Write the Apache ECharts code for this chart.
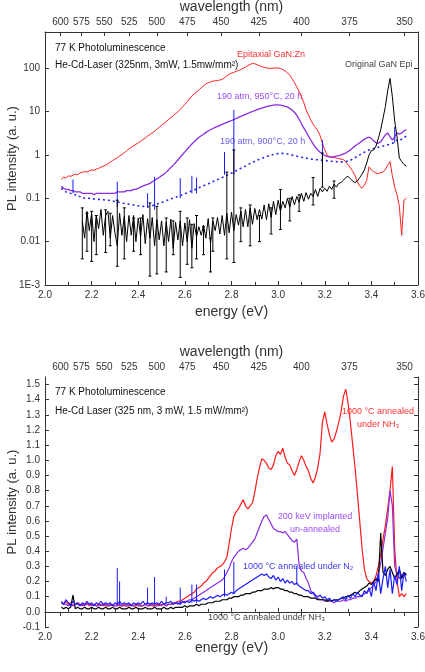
<!DOCTYPE html>
<html><head><meta charset="utf-8">
<script src="https://cdn.jsdelivr.net/npm/echarts@6/dist/echarts.min.js"></script>
<style>html,body{margin:0;padding:0;background:#fff}#c{width:425px;height:672px}</style>
</head><body><div id="c"></div>
<script>
// Energy sampling grid (eV)
const energy = [
2.07,2.08,2.09,2.10,2.11,2.12,2.13,2.14,2.15,2.16,
2.17,2.18,2.19,2.20,2.21,2.22,2.23,2.24,2.25,2.26,
2.27,2.28,2.29,2.30,2.31,2.32,2.33,2.34,2.35,2.36,
2.37,2.38,2.39,2.40,2.41,2.42,2.43,2.44,2.45,2.46,
2.47,2.48,2.49,2.50,2.51,2.52,2.53,2.54,2.55,2.56,
2.57,2.58,2.59,2.60,2.61,2.62,2.63,2.64,2.65,2.66,
2.67,2.68,2.69,2.70,2.71,2.72,2.73,2.74,2.75,2.76,
2.77,2.78,2.79,2.80,2.81,2.82,2.83,2.84,2.85,2.86,
2.87,2.88,2.89,2.90,2.91,2.92,2.93,2.94,2.95,2.96,
2.97,2.98,2.99,3.00,3.01,3.02,3.03,3.04,3.05,3.06,
3.07,3.08,3.09,3.10,3.11,3.12,3.13,3.14,3.15,3.16,
3.17,3.18,3.19,3.20,3.21,3.22,3.23,3.24,3.25,3.26,
3.27,3.28,3.29,3.30,3.31,3.32,3.33,3.34,3.35,3.36,
3.37,3.38,3.39,3.40,3.41,3.42,3.43,3.44,3.45,3.46,
3.47,3.48,3.49,3.50,3.51,3.52,3.53,3.54,3.55];

const wavelengthTicks = [600,575,550,525,500,475,450,425,400,375,350];

// ---- top panel (log scale) ----
const topEpiGaNZn = [
0.27,0.31,0.29,0.33,0.32,0.34,0.36,0.35,0.38,0.40,
0.41,0.40,0.43,0.45,0.44,0.47,0.49,0.52,0.55,0.58,
0.62,0.68,0.74,0.80,0.86,0.94,1.02,1.12,1.24,1.38,
1.50,1.62,1.75,1.90,2.05,2.25,2.45,2.70,2.95,3.20,
3.5,3.9,4.3,4.8,5.3,5.9,6.5,7.2,8.0,8.9,
9.9,11.2,12.8,14.6,16.8,19.5,22.5,25.5,28.5,31,
35,39,43,46,48,50,51,52,53,55,
60,66,72,76,80,84,88,93,99,106,
114,122,128,126,120,114,108,104,100,99,
99,100,101,100,98,93,86,78,68,57,
46,37,29,22,16,11,8.3,6.4,5.1,4.3,
3.6,2.8,1.9,1.3,1.0,0.9,0.86,0.88,0.84,0.82,
0.80,0.77,0.70,0.60,0.50,0.42,0.33,0.24,0.19,0.17,
0.20,0.26,0.53,0.45,0.41,0.38,0.37,0.39,0.40,0.46,
0.58,0.70,0.33,0.18,0.12,0.065,0.014,0.09,0.10];

const top950C = [
0.19,0.17,0.16,0.16,0.15,0.15,0.14,0.14,0.14,0.13,
0.13,0.13,0.13,0.13,0.12,0.13,0.13,0.13,0.13,0.13,
0.13,0.13,0.13,0.13,0.14,0.14,0.14,0.14,0.15,0.15,
0.15,0.16,0.16,0.17,0.18,0.19,0.20,0.21,0.22,0.24,
0.26,0.28,0.30,0.33,0.36,0.40,0.45,0.51,0.58,0.66,
0.76,0.88,1.02,1.17,1.35,1.55,1.78,2.0,2.25,2.5,
2.75,3.0,3.3,3.55,3.8,4.05,4.3,4.55,4.8,5.05,
5.3,5.6,5.9,6.2,6.5,6.9,7.3,7.7,8.1,8.6,
9.0,9.5,10,10.5,11,11.5,12,12.5,13,13.4,
13.7,14,14.2,14.2,14,13.7,13.2,12.6,11.8,10.8,
9.6,8.2,6.6,5.2,4.2,3.4,2.7,2.2,1.8,1.5,
1.3,1.15,1.05,0.97,0.92,0.90,0.90,0.91,0.93,0.96,
1.0,1.05,1.1,1.2,1.3,1.45,1.6,1.75,1.9,2.1,
2.3,2.45,2.55,2.4,2.1,1.9,1.85,2.0,2.4,2.9,
3.2,2.6,2.2,2.6,3.2,3.0,3.2,3.6,3.8];

const top900C = [
0.17,0.15,0.14,0.13,0.13,0.12,0.12,0.11,0.11,0.11,
0.10,0.10,0.10,0.098,0.096,0.095,0.094,0.093,0.092,0.091,
0.09,0.088,0.086,0.084,0.082,0.08,0.078,0.076,0.075,0.073,
0.072,0.07,0.068,0.067,0.066,0.065,0.064,0.064,0.065,0.067,
0.07,0.073,0.077,0.08,0.084,0.088,0.092,0.097,0.10,0.105,
0.11,0.115,0.12,0.126,0.132,0.14,0.147,0.155,0.165,0.175,
0.185,0.195,0.205,0.215,0.225,0.24,0.255,0.27,0.285,0.3,
0.32,0.34,0.36,0.38,0.40,0.43,0.46,0.49,0.52,0.55,
0.59,0.63,0.67,0.71,0.75,0.79,0.83,0.87,0.91,0.95,
0.99,1.02,1.05,1.07,1.08,1.08,1.07,1.05,1.02,0.99,
0.96,0.93,0.9,0.88,0.86,0.84,0.82,0.8,0.79,0.78,
0.77,0.76,0.75,0.74,0.73,0.72,0.71,0.70,0.70,0.69,
0.69,0.69,0.7,0.72,0.75,0.8,0.86,0.93,1.0,1.08,
1.15,1.22,1.3,1.35,1.4,1.45,1.5,1.55,1.6,1.65,
1.7,1.75,1.85,2.0,2.2,2.1,2.3,2.5,2.7];

const topOriginalEpi = [
null,null,null,null,null,null,null,null,null,0.03,
0.012,0.05,0.018,0.045,0.01,0.04,0.02,0.055,0.014,0.04,
0.05,0.012,0.04,0.016,0.008,0.045,0.014,0.038,0.01,0.04,
0.014,0.04,0.01,0.035,0.013,0.042,0.009,0.034,0.012,0.036,
0.008,0.032,0.011,0.03,0.008,0.028,0.01,0.033,0.007,0.028,
0.011,0.03,0.008,0.027,0.01,0.032,0.007,0.026,0.013,0.022,
0.014,0.024,0.012,0.034,0.009,0.03,0.018,0.036,0.015,0.04,
0.014,0.045,0.016,0.048,0.018,0.042,0.024,0.05,0.022,0.055,
0.022,0.06,0.025,0.058,0.032,0.055,0.033,0.07,0.032,0.075,
0.036,0.085,0.042,0.09,0.05,0.085,0.06,0.1,0.062,0.11,
0.07,0.11,0.08,0.13,0.085,0.135,0.095,0.13,0.11,0.16,
0.11,0.17,0.14,0.17,0.145,0.19,0.16,0.21,0.18,0.22,
0.23,0.26,0.3,0.32,0.28,0.25,0.23,0.25,0.3,0.36,
0.45,0.65,1.0,1.25,1.3,1.6,2.4,3.8,7.0,13,
30,58,22,6,2.6,0.85,0.7,0.6,0.55];

// error bars of original epi: [energy, low, high]
const topEpiErrorBars = [
[2.16,0.004,0.06],[2.18,0.006,0.045],[2.20,0.0035,0.05],[2.22,0.005,0.04],[2.26,0.0056,0.054],
[2.28,0.008,0.045],[2.31,0.0027,0.09],[2.34,0.004,0.06],[2.38,0.006,0.035],[2.41,0.005,0.035],
[2.45,0.0016,0.078],[2.48,0.0018,0.065],[2.52,0.002,0.035],[2.55,0.005,0.03],[2.58,0.0015,0.05],
[2.61,0.003,0.035],[2.63,0.0025,0.025],[2.65,0.004,0.04],[2.68,0.005,0.022],[2.71,0.002,0.012],
[2.72,0.006,0.035],[2.78,0.004,0.4],[2.81,0.0033,1.3],[2.84,0.01,0.06],[2.88,0.008,0.07],
[2.92,0.01,0.04],[2.97,0.015,0.06],[3.01,0.019,0.16],[3.05,0.03,0.1],[3.09,0.05,0.12],
[3.15,0.07,0.3],[3.19,0.18,1.1],[3.24,0.1,0.25]];

// spikes on 900C curve: [energy, low, high]
const top900Spikes = [
[2.12,0.13,0.27],[2.31,0.063,0.24],[2.44,0.06,0.13],[2.47,0.054,0.31],[2.58,0.10,0.29],
[2.63,0.13,0.33],[2.65,0.13,0.30],[2.77,0.35,1.17],[2.81,0.35,10.9],[3.19,0.65,2.2],[3.50,1.9,4.4]];

// ---- bottom panel (linear) ----
const botNH3Red = [
0.06,0.05,0.07,0.05,0.06,0.04,0.05,0.06,0.05,0.04,
0.05,0.06,0.04,0.05,0.05,0.04,0.05,0.04,0.05,0.04,
0.04,0.05,0.04,0.04,0.05,0.04,0.04,0.05,0.04,0.04,
0.05,0.04,0.04,0.05,0.04,0.04,0.05,0.04,0.05,0.04,
0.04,0.05,0.04,0.05,0.05,0.04,0.05,0.05,0.06,0.06,
0.07,0.07,0.08,0.09,0.1,0.11,0.12,0.13,0.15,0.16,
0.17,0.19,0.2,0.22,0.24,0.26,0.27,0.29,0.3,0.31,
0.33,0.36,0.45,0.55,0.63,0.66,0.68,0.71,0.74,0.70,
0.68,0.7,0.72,0.79,0.88,0.95,1.01,1.0,0.98,0.95,
0.94,0.97,1.03,1.06,1.04,1.08,1.02,0.98,0.97,0.93,
0.9,0.94,0.99,1.03,1.0,0.96,0.93,0.88,0.85,0.89,
0.95,1.05,1.25,1.32,1.24,1.17,1.12,1.14,1.19,1.25,
1.32,1.42,1.47,1.38,1.25,1.1,0.95,0.78,0.6,0.42,
0.28,0.22,0.2,0.19,0.2,0.24,0.3,0.38,0.48,0.57,
0.68,0.8,0.96,0.42,0.2,0.1,0.12,0.1,0.12];

const botImplanted = [
0.06,0.05,0.05,0.04,0.05,0.04,0.05,0.05,0.04,0.05,
0.04,0.05,0.05,0.04,0.05,0.04,0.04,0.05,0.04,0.05,
0.04,0.04,0.05,0.04,0.04,0.05,0.04,0.04,0.04,0.05,
0.04,0.04,0.05,0.04,0.04,0.04,0.05,0.04,0.04,0.05,
0.04,0.04,0.05,0.04,0.05,0.04,0.05,0.05,0.05,0.06,
0.05,0.06,0.06,0.07,0.07,0.08,0.08,0.09,0.1,0.11,
0.12,0.13,0.14,0.15,0.16,0.17,0.18,0.19,0.2,0.21,
0.23,0.26,0.29,0.33,0.36,0.38,0.4,0.41,0.42,0.41,
0.42,0.44,0.46,0.48,0.52,0.56,0.6,0.63,0.64,0.61,
0.58,0.55,0.54,0.53,0.53,0.52,0.53,0.51,0.49,0.47,
0.46,0.48,0.31,0.27,0.26,0.22,0.19,0.14,0.12,0.1,
0.09,0.08,0.08,0.07,0.07,0.07,0.07,0.06,0.07,0.07,
0.07,0.08,0.07,0.08,0.08,0.09,0.09,0.1,0.1,0.11,
0.12,0.13,0.14,0.16,0.18,0.2,0.25,0.32,0.42,0.52,
0.62,0.8,0.7,0.3,0.25,0.22,0.24,0.26,0.25];

const botN2Blue = [
0.07,0.05,0.08,0.06,0.04,0.07,0.05,0.06,0.04,0.06,
0.05,0.07,0.05,0.06,0.04,0.06,0.05,0.07,0.05,0.06,
0.05,0.06,0.04,0.06,0.05,0.07,0.05,0.06,0.05,0.06,
0.04,0.06,0.05,0.06,0.05,0.07,0.05,0.06,0.05,0.06,
0.05,0.06,0.05,0.07,0.05,0.06,0.06,0.07,0.05,0.06,
0.06,0.05,0.07,0.06,0.07,0.06,0.08,0.07,0.08,0.07,
0.08,0.09,0.08,0.09,0.1,0.09,0.1,0.11,0.1,0.11,
0.12,0.11,0.12,0.13,0.12,0.14,0.15,0.16,0.17,0.18,
0.19,0.2,0.21,0.22,0.23,0.24,0.25,0.24,0.25,0.23,
0.22,0.24,0.21,0.23,0.2,0.22,0.19,0.21,0.19,0.2,
0.18,0.19,0.17,0.16,0.15,0.14,0.14,0.12,0.13,0.11,
0.1,0.11,0.09,0.1,0.08,0.09,0.07,0.08,0.07,0.08,
0.09,0.1,0.08,0.11,0.09,0.12,0.1,0.13,0.11,0.1,
0.14,0.12,0.16,0.1,0.2,0.14,0.26,0.12,0.22,0.3,
0.16,0.28,0.12,0.24,0.18,0.3,0.14,0.26,0.2];

const botN2Spikes = [
[2.31,0.05,0.29],[2.32,0.05,0.2],[2.44,0.05,0.16],[2.47,0.05,0.23],[2.52,0.05,0.1],
[2.58,0.05,0.16],[2.63,0.06,0.18],[2.65,0.06,0.18],[2.77,0.1,0.28],[2.81,0.12,0.33],[3.08,0.18,0.3]];

const botNH3Black = [
0.03,0.02,0.03,0.02,0.03,0.11,0.02,0.03,0.02,0.02,
0.03,0.02,0.02,0.03,0.02,0.02,0.03,0.02,0.02,0.03,
0.02,0.02,0.03,0.02,0.02,0.03,0.02,0.02,0.02,0.03,
0.02,0.02,0.03,0.02,0.02,0.02,0.03,0.02,0.02,0.02,
0.03,0.02,0.02,0.02,0.03,0.02,0.02,0.03,0.02,0.03,
0.03,0.03,0.03,0.04,0.03,0.04,0.04,0.04,0.05,0.04,
0.05,0.05,0.05,0.06,0.06,0.06,0.07,0.07,0.07,0.08,
0.08,0.08,0.09,0.09,0.1,0.1,0.1,0.11,0.11,0.12,
0.12,0.12,0.13,0.13,0.14,0.14,0.14,0.15,0.15,0.15,
0.16,0.15,0.16,0.16,0.15,0.15,0.14,0.14,0.13,0.13,
0.12,0.12,0.11,0.11,0.1,0.1,0.1,0.09,0.09,0.09,
0.08,0.08,0.08,0.08,0.07,0.08,0.07,0.08,0.08,0.08,
0.09,0.09,0.1,0.1,0.11,0.12,0.13,0.12,0.14,0.15,
0.16,0.17,0.19,0.18,0.2,0.22,0.2,0.52,0.26,0.24,
0.28,0.3,0.26,0.22,0.25,0.28,0.22,0.26,0.24];

const FONT = 'Liberation Sans, Arial, sans-serif';
const AX = '#333';
const pairs = arr => energy.map((e, i) => [e, arr[i]]);
const wlEnergies = wavelengthTicks.map(l => 1239.84 / l);

function bars(color, cap) {
  return function (params, api) {
    const x = api.value(0), lo = api.value(1), hi = api.value(2);
    const p1 = api.coord([x, lo]), p2 = api.coord([x, hi]);
    const ch = [{type:'line', shape:{x1:p1[0],y1:p1[1],x2:p2[0],y2:p2[1]}, style:{stroke:color,lineWidth:1}}];
    if (cap) {
      ch.push({type:'line', shape:{x1:p1[0]-1.5,y1:p1[1],x2:p1[0]+1.5,y2:p1[1]}, style:{stroke:color,lineWidth:1}});
      ch.push({type:'line', shape:{x1:p2[0]-1.5,y1:p2[1],x2:p2[0]+1.5,y2:p2[1]}, style:{stroke:color,lineWidth:1}});
    }
    return {type:'group', children: ch};
  };
}

function energyAxis(gi, gap) {
  return {
    type:'value', gridIndex:gi, position:'bottom', min:2, max:3.6, interval:0.2,
    name:'energy (eV)', nameLocation:'middle', nameGap:gap, nameMoveOverlap:false,
    nameTextStyle:{fontFamily:FONT,fontSize:14,color:'#333'},
    axisLine:{show:true,lineStyle:{color:AX,width:1}},
    axisTick:{inside:true,length:4,lineStyle:{color:AX}},
    minorTick:{show:true,splitNumber:2,length:3,lineStyle:{color:AX}},
    axisLabel:{fontFamily:FONT,fontSize:10,color:'#333',margin:5,formatter:v=>v.toFixed(1)},
    splitLine:{show:false}
  };
}
function wavelengthAxis(gi, gap) {
  return {
    type:'value', gridIndex:gi, position:'top', min:2, max:3.6,
    name:'wavelength (nm)', nameLocation:'middle', nameGap:gap, nameMoveOverlap:false,
    nameTextStyle:{fontFamily:FONT,fontSize:14,color:'#333'},
    axisLine:{show:true,lineStyle:{color:AX,width:1}},
    axisTick:{inside:true,length:4,customValues:wlEnergies,lineStyle:{color:AX}},
    axisLabel:{fontFamily:FONT,fontSize:10,color:'#333',margin:5,customValues:wlEnergies,
      formatter:v=>String(Math.round(1239.84/v))},
    splitLine:{show:false}
  };
}
const logNames = {'2':'100','1':'10','0':'1','-1':'0.1','-2':'0.01','-3':'1E-3'};

const option = {
  animation:false,
  backgroundColor:'#fff',
  grid:[
    {left:45,right:7,top:32,height:253,containLabel:false,outerBoundsMode:'none'},
    {left:45,right:7,top:377,height:250,containLabel:false,outerBoundsMode:'none'}
  ],
  xAxis:[energyAxis(0,20), wavelengthAxis(0,18), energyAxis(1,14), wavelengthAxis(1,18)],
  yAxis:[
    {type:'log', gridIndex:0, logBase:10, min:0.001, max:680, position:'left',
     name:'PL intensity (a. u.)', nameLocation:'middle', nameGap:26, nameMoveOverlap:false,
     nameTextStyle:{fontFamily:FONT,fontSize:13,color:'#333'},
     axisLine:{show:true,lineStyle:{color:AX}},
     axisTick:{inside:true,length:4,lineStyle:{color:AX}},
     axisLabel:{fontFamily:FONT,fontSize:10,color:'#333',margin:5,showMaxLabel:false,
       formatter:v=>{const k=String(Math.round(Math.log10(v))); return logNames[k]!==undefined?logNames[k]:'';}},
     splitLine:{show:false}},
    {type:'log', gridIndex:0, logBase:10, min:0.001, max:680, position:'right',
     axisLine:{show:true,lineStyle:{color:AX}},
     axisTick:{inside:true,length:4,lineStyle:{color:AX}},
     axisLabel:{show:false}, splitLine:{show:false}},
    {type:'value', gridIndex:1, min:-0.1, max:1.55, interval:0.1, position:'left',
     name:'PL intensity (a. u.)', nameLocation:'middle', nameGap:26, nameMoveOverlap:false,
     nameTextStyle:{fontFamily:FONT,fontSize:13,color:'#333'},
     axisLine:{show:true,lineStyle:{color:AX}},
     axisTick:{inside:true,length:4,lineStyle:{color:AX}},
     axisLabel:{fontFamily:FONT,fontSize:10,color:'#333',margin:5,showMaxLabel:false,formatter:v=>v.toFixed(1)},
     splitLine:{show:false}},
    {type:'value', gridIndex:1, min:-0.1, max:1.55, interval:0.1, position:'right',
     axisLine:{show:true,lineStyle:{color:AX}},
     axisTick:{inside:true,length:4,lineStyle:{color:AX}},
     axisLabel:{show:false}, splitLine:{show:false}}
  ],
  series:[
    {type:'line', xAxisIndex:0, yAxisIndex:0, data:pairs(topEpiGaNZn), showSymbol:false,
     lineStyle:{color:'#ff2020',width:1}, z:2},
    {type:'line', xAxisIndex:0, yAxisIndex:0, data:pairs(top950C), showSymbol:false,
     lineStyle:{color:'#8a2be2',width:1.3}, z:3},
    {type:'line', xAxisIndex:0, yAxisIndex:0, data:pairs(top900C), showSymbol:false,
     lineStyle:{color:'#2828e6',width:1.6,type:[2,3]}, z:4},
    {type:'custom', xAxisIndex:0, yAxisIndex:0, data:top900Spikes, renderItem:bars('#1a1aff',false),
     encode:{x:0,y:[1,2]}, z:4},
    {type:'line', xAxisIndex:0, yAxisIndex:0, data:pairs(topOriginalEpi), showSymbol:false, connectNulls:false,
     lineStyle:{color:'#000',width:1}, z:5},
    {type:'custom', xAxisIndex:0, yAxisIndex:0, data:topEpiErrorBars, renderItem:bars('#000',true),
     encode:{x:0,y:[1,2]}, z:5},

    {type:'line', xAxisIndex:2, yAxisIndex:2, data:pairs(botNH3Red), showSymbol:false,
     lineStyle:{color:'#ff1a1a',width:1.2}, z:2},
    {type:'line', xAxisIndex:2, yAxisIndex:2, data:pairs(botImplanted), showSymbol:false,
     lineStyle:{color:'#8a2be2',width:1.2}, z:3},
    {type:'line', xAxisIndex:2, yAxisIndex:2, data:pairs(botNH3Black), showSymbol:false,
     lineStyle:{color:'#000',width:1.2}, z:4},
    {type:'line', xAxisIndex:2, yAxisIndex:2, data:pairs(botN2Blue), showSymbol:false,
     lineStyle:{color:'#1a1aff',width:1.2}, z:5},
    {type:'custom', xAxisIndex:2, yAxisIndex:2, data:botN2Spikes, renderItem:bars('#1a1aff',false),
     encode:{x:0,y:[1,2]}, z:5}
  ],
  graphic:[
    {type:'text', left:55, top:43, style:{text:'77 K Photoluminescence', font:'10px '+FONT, fill:'#111'}},
    {type:'text', left:55, top:60, style:{text:'He-Cd-Laser (325nm, 3mW, 1.5mw/mm²)', font:'10px '+FONT, fill:'#111'}},
    {type:'text', left:237, top:50, style:{text:'Epitaxial GaN:Zn', font:'9px '+FONT, fill:'#ff3030'}},
    {type:'text', left:345, top:60, style:{text:'Original GaN Epi', font:'9px '+FONT, fill:'#444'}},
    {type:'text', left:217, top:92, style:{text:'190 atm, 950°C, 20 h', font:'9px '+FONT, fill:'#9a4cf5'}},
    {type:'text', left:220, top:137, style:{text:'190 atm, 900°C, 20 h', font:'9px '+FONT, fill:'#6a5fe6'}},

    {type:'text', left:55, top:387, style:{text:'77 K Photoluminescence', font:'10px '+FONT, fill:'#111'}},
    {type:'text', left:55, top:406, style:{text:'He-Cd Laser (325 nm, 3 mW, 1.5 mW/mm²)', font:'10px '+FONT, fill:'#111'}},
    {type:'text', x:378, y:412, style:{text:'1000 °C annealed', font:'9px '+FONT, fill:'#ff3030', align:'center', verticalAlign:'middle'}},
    {type:'text', x:378, y:425, style:{text:'under NH₃', font:'9px '+FONT, fill:'#ff3030', align:'center', verticalAlign:'middle'}},
    {type:'text', x:315, y:517, style:{text:'200 keV implanted', font:'9px '+FONT, fill:'#9a4cf5', align:'center', verticalAlign:'middle'}},
    {type:'text', x:315, y:530, style:{text:'un-annealed', font:'9px '+FONT, fill:'#9a4cf5', align:'center', verticalAlign:'middle'}},
    {type:'text', left:243, top:562, style:{text:'1000 °C annealed under N₂', font:'9px '+FONT, fill:'#3a3ae6'}},
    {type:'text', left:208, top:613, style:{text:'1000 °C annealed under NH₃', font:'9px '+FONT, fill:'#444'}}
  ]
};
const chart = echarts.init(document.getElementById('c'), null, {renderer:'canvas'});
chart.setOption(option);
</script>
</body></html>
